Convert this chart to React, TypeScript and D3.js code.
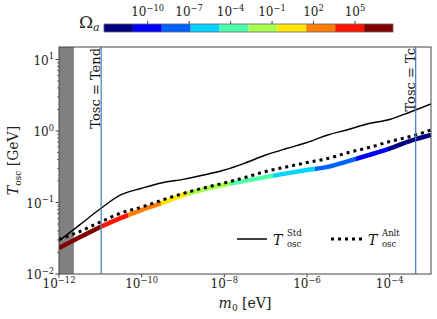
import * as d3 from "d3";

// log10 of the axion mass m0 [eV]
const massExp = [-12, -11.5, -11, -10.5, -10, -9.5, -9, -8.5, -8, -7.5, -7, -6.5, -6, -5.5, -5, -4.5, -4, -3.5, -3];
// log10 of T_osc [GeV]
const tStdExp = [-1.538, -1.313, -1.088, -0.891, -0.801, -0.724, -0.676, -0.615, -0.545, -0.448, -0.336, -0.245, -0.161, -0.056, 0.021, 0.105, 0.161, 0.266, 0.378];
const tAnltExp = [-1.515, -1.406, -1.273, -1.147, -1.063, -0.965, -0.874, -0.797, -0.727, -0.65, -0.566, -0.503, -0.441, -0.385, -0.301, -0.231, -0.147, -0.077, 0.014];
const tColorExp = [-1.636, -1.487, -1.343, -1.215, -1.105, -1.005, -0.895, -0.817, -0.752, -0.698, -0.645, -0.593, -0.545, -0.501, -0.421, -0.336, -0.246, -0.138, -0.056];
// log10 of Omega_a along the coloured curve
const omegaExp = [8.2, 7.0, 5.66, 3.99, 2.65, 1.4, -0.35, -1.42, -2.43, -3.44, -4.46, -5.47, -6.48, -7.5, -8.51, -9.75, -11.2, -12.4, -13.6];

const xTickExp = [-12, -10, -8, -6, -4];
const yTickExp = [-2, -1, 0, 1];
const cbarTickExp = [-10, -7, -4, -1, 2, 5];
const cbarExtent = [-13.16, 7.75];
const excludedMaxExp = -11.64; // grey band
const tendMassExp = -10.98;
const tcMassExp = -3.37;

const jet10 = ["#000080", "#0000ff", "#0063ff", "#00d4ff", "#4effa9", "#a9ff4e", "#ffe600", "#ff7d00", "#ff1400", "#800000"];

const serif = "'DejaVu Serif', serif";
const spine = "#444";

const Pow10 = ({ x, y, exp, anchor = "middle", size = 12 }: { x: number; y: number; exp: number; anchor?: string; size?: number }) => (
  <text x={x} y={y} textAnchor={anchor} fontSize={size} fontFamily={serif} fill="#222">
    10
    <tspan dy={-size * 0.45} fontSize={size * 0.7}>
      {exp < 0 ? "\u2212" + -exp : String(exp)}
    </tspan>
  </text>
);

export default function App() {
  const width = 437;
  const height = 319;
  const margin = { top: 47, right: 6, bottom: 45, left: 59 };

  const x = d3.scaleLog().domain([1e-12, 1e-3]).range([margin.left, width - margin.right]);
  const y = d3.scaleLog().domain([1e-2, 10 ** 1.175]).range([height - margin.bottom, margin.top]);
  const cb = d3.scaleLog().domain([10 ** cbarExtent[0], 10 ** cbarExtent[1]]).range([104, 393]);

  const [x0, x1] = x.range();
  const [yb, yt] = y.range();

  const line = d3
    .line<[number, number]>()
    .curve(d3.curveMonotoneX)
    .x((d) => x(10 ** d[0]))
    .y((d) => y(10 ** d[1]));

  const stdPath = line(massExp.map((m, i) => [m, tStdExp[i]])) || "";
  const anltPath = line(massExp.map((m, i) => [m, tAnltExp[i]])) || "";
  const colPath = line(massExp.map((m, i) => [m, tColorExp[i]])) || "";

  // colour stops of the Omega_a-coloured curve
  const binW = (cbarExtent[1] - cbarExtent[0]) / 10;
  const edges = d3.range(11).map((i) => cbarExtent[0] + i * binW);
  const bin = (v: number) => Math.max(0, Math.min(9, Math.floor((v - cbarExtent[0]) / binW)));
  const pts = massExp.map((m, i) => ({ px: x(10 ** m), o: omegaExp[i] }));
  const gx0 = pts[0].px;
  const gx1 = pts[pts.length - 1].px;
  const stops: { off: number; color: string }[] = [];
  let cur = bin(pts[0].o);
  stops.push({ off: 0, color: jet10[cur] });
  for (let i = 0; i < pts.length - 1; i++) {
    const a = pts[i];
    const b = pts[i + 1];
    const nb = bin(b.o);
    const step = nb > cur ? 1 : -1;
    while (cur !== nb) {
      const edge = step > 0 ? edges[cur + 1] : edges[cur];
      const f = (edge - a.o) / (b.o - a.o);
      const off = (a.px + f * (b.px - a.px) - gx0) / (gx1 - gx0);
      stops.push({ off, color: jet10[cur] });
      cur += step;
      stops.push({ off, color: jet10[cur] });
    }
  }
  stops.push({ off: 1, color: jet10[cur] });

  const yMinor: number[] = [];
  for (let e = -2; e <= 1; e++) {
    for (let k = 2; k <= 9; k++) {
      const v = k * 10 ** e;
      if (v < y.domain()[1]) yMinor.push(v);
    }
  }

  const xTend = x(10 ** tendMassExp);
  const xTc = x(10 ** tcMassExp);

  return (
    <svg width={width} height={height} style={{ position: "absolute", left: 0, top: 0, background: "#fff" }}>
      <defs>
        <linearGradient id="omegaGrad" gradientUnits="userSpaceOnUse" x1={gx0} x2={gx1} y1={0} y2={0}>
          {stops.map((s, i) => (
            <stop key={i} offset={s.off} stopColor={s.color} />
          ))}
        </linearGradient>
        <clipPath id="plotClip">
          <rect x={x0} y={yt} width={x1 - x0} height={yb - yt} />
        </clipPath>
      </defs>

      {/* excluded region */}
      <rect x={x0} y={yt} width={x(10 ** excludedMaxExp) - x0} height={yb - yt} fill="#808080" />

      <g clipPath="url(#plotClip)">
        <path d={colPath} fill="none" stroke="url(#omegaGrad)" strokeWidth={4.5} />
        <path d={stdPath} fill="none" stroke="#000" strokeWidth={1.4} />
        <path d={anltPath} fill="none" stroke="#000" strokeWidth={3} strokeDasharray="3 4" />
      </g>

      {/* vertical markers */}
      <line x1={xTend} x2={xTend} y1={yt} y2={yb} stroke="#3f7ab5" strokeWidth={1.2} />
      <line x1={xTc} x2={xTc} y1={yt} y2={yb} stroke="#3f7ab5" strokeWidth={1.2} />
      <text transform={`translate(${xTend - 1},${yt + 1}) rotate(-90)`} textAnchor="end" fontSize={13} fontFamily={serif} fill="#111">
        Tosc = Tend
      </text>
      <text transform={`translate(${xTc - 1},${yt + 1}) rotate(-90)`} textAnchor="end" fontSize={13} fontFamily={serif} fill="#111">
        Tosc = Tc
      </text>

      {/* frame */}
      <rect x={x0} y={yt} width={x1 - x0} height={yb - yt} fill="none" stroke={spine} strokeWidth={1} />

      {/* x axis */}
      {xTickExp.map((e) => (
        <g key={e}>
          <line x1={x(10 ** e)} x2={x(10 ** e)} y1={yb} y2={yb + 3.5} stroke={spine} />
          <Pow10 x={x(10 ** e)} y={yb + 14} exp={e} />
        </g>
      ))}
      <text x={(x0 + x1) / 2} y={308} textAnchor="middle" fontSize={14} fontFamily={serif} fill="#222">
        <tspan fontStyle="italic">m</tspan>
        <tspan fontSize={9} dy={3}>0</tspan>
        <tspan dy={-3}> [eV]</tspan>
      </text>

      {/* y axis */}
      {yMinor.map((v) => (
        <line key={v} x1={x0} x2={x0 - 2} y1={y(v)} y2={y(v)} stroke={spine} strokeWidth={0.7} />
      ))}
      {yTickExp.map((e) => (
        <g key={e}>
          <line x1={x0} x2={x0 - 3.5} y1={y(10 ** e)} y2={y(10 ** e)} stroke={spine} />
          <Pow10 x={x0 - 5} y={y(10 ** e) + 5} exp={e} anchor="end" />
        </g>
      ))}
      <text transform={`translate(18,${(yt + yb) / 2}) rotate(-90)`} textAnchor="middle" fontSize={14} fontFamily={serif} fill="#222">
        <tspan fontStyle="italic">T</tspan>
        <tspan fontSize={9} dy={3}>osc</tspan>
        <tspan dy={-3}> [GeV]</tspan>
      </text>

      {/* legend */}
      <line x1={237} x2={267} y1={239} y2={239} stroke="#000" strokeWidth={1.5} />
      <text x={273} y={245} fontSize={14} fontFamily={serif} fontStyle="italic" fill="#111">T</text>
      <text x={287} y={236} fontSize={8.5} fontFamily={serif} fill="#111">Std</text>
      <text x={287} y={247} fontSize={8.5} fontFamily={serif} fill="#111">osc</text>
      <line x1={331} x2={362} y1={239} y2={239} stroke="#000" strokeWidth={3} strokeDasharray="3 4" />
      <text x={368} y={245} fontSize={14} fontFamily={serif} fontStyle="italic" fill="#111">T</text>
      <text x={382} y={236} fontSize={8.5} fontFamily={serif} fill="#111">Anlt</text>
      <text x={382} y={247} fontSize={8.5} fontFamily={serif} fill="#111">osc</text>

      {/* colour bar */}
      {jet10.map((c, i) => (
        <rect
          key={c}
          x={cb(10 ** edges[i])}
          y={24}
          width={cb(10 ** edges[i + 1]) - cb(10 ** edges[i])}
          height={8}
          fill={c}
        />
      ))}
      <rect x={cb.range()[0]} y={24} width={cb.range()[1] - cb.range()[0]} height={8} fill="none" stroke="#666" strokeWidth={0.8} />
      {cbarTickExp.map((e) => (
        <g key={e}>
          <line x1={cb(10 ** e)} x2={cb(10 ** e)} y1={24} y2={21} stroke={spine} />
          <Pow10 x={cb(10 ** e)} y={16} exp={e} />
        </g>
      ))}
      <text x={79} y={28} fontSize={17} fontFamily={serif} fill="#222">
        Ω<tspan fontSize={11} fontStyle="italic" dy={3}>a</tspan>
      </text>
    </svg>
  );
}
